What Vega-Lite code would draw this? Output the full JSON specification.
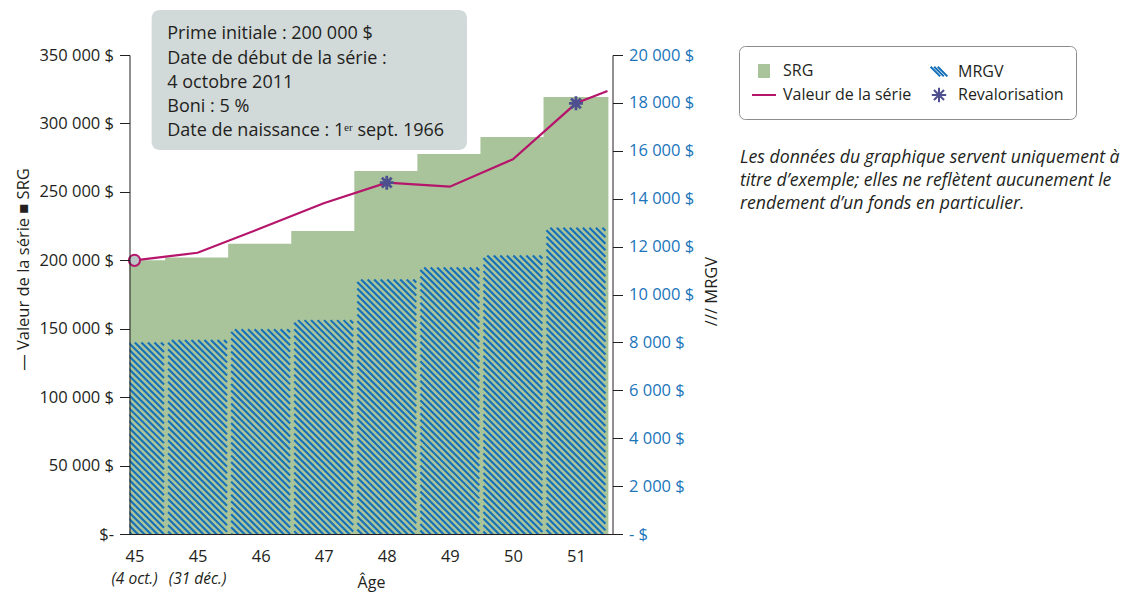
{
  "$schema": "https://vega.github.io/schema/vega-lite/v6.json",
  "width": 483,
  "height": 479,
  "autosize": {"type": "none"},
  "padding": {"left": 129.5, "top": 55, "right": 514.5, "bottom": 58},
  "background": "#ffffff",
  "config": {
    "font": "Open Sans",
    "view": {"stroke": null},
    "axis": {"grid": false, "labelFont": "Open Sans", "titleFont": "Open Sans"}
  },
  "datasets": {
    "main": [
      {"i": 0, "srg": 200000, "mrgv": 8000, "valeur": 200000, "reval": false},
      {"i": 1, "srg": 202000, "mrgv": 8100, "valeur": 205500, "reval": false},
      {"i": 2, "srg": 212000, "mrgv": 8550, "valeur": 223400, "reval": false},
      {"i": 3, "srg": 221400, "mrgv": 8930, "valeur": 241650, "reval": false},
      {"i": 4, "srg": 265200, "mrgv": 10630, "valeur": 256700, "reval": true},
      {"i": 5, "srg": 277700, "mrgv": 11130, "valeur": 253800, "reval": false},
      {"i": 6, "srg": 290100, "mrgv": 11630, "valeur": 273800, "reval": false},
      {"i": 7, "srg": 319300, "mrgv": 12790, "valeur": 314700, "reval": true}
    ],
    "line": [
      {"i": 0, "v": 200000},
      {"i": 1, "v": 205500},
      {"i": 2, "v": 223400},
      {"i": 3, "v": 241650},
      {"i": 4, "v": 256700},
      {"i": 5, "v": 253800},
      {"i": 6, "v": 273800},
      {"i": 7, "v": 314700},
      {"i": 7.5, "v": 323700}
    ],
    "sub": [
      {"i": 0, "t": "(4 oct.)"},
      {"i": 1, "t": "(31 déc.)"}
    ],
    "series": [
      {"s": "SRG"},
      {"s": "MRGV"},
      {"s": "Valeur de la série"},
      {"s": "Revalorisation"}
    ]
  },
  "resolve": {"scale": {"y": "independent"}, "axis": {"x": "independent"}},
  "layer": [
    {
      "data": {"name": "main"},
      "mark": {"type": "bar", "orient": "vertical", "width": 64.9, "fill": "#a9c49a", "clip": true},
      "encoding": {
        "x": {
          "field": "i", "type": "quantitative",
          "scale": {"domain": [0, 7.5], "nice": false, "zero": false},
          "axis": {
            "orient": "bottom",
            "values": [0, 1, 2, 3, 4, 5, 6, 7],
            "labelExpr": "['45','45','46','47','48','49','50','51'][datum.value]",
            "title": "Âge",
            "ticks": false, "tickSize": 0, "labelPadding": 14,
            "labelFontSize": 16.5, "labelColor": "#231f20",
            "labelFlush": false, "labelOverlap": false,
            "domainColor": "#231f20", "domainWidth": 1,
            "titleFontSize": 16, "titleFontWeight": "normal", "titleColor": "#231f20",
            "titleY": 48, "titleBaseline": "middle", "zindex": 1
          }
        },
        "y": {
          "field": "srg", "type": "quantitative",
          "scale": {"domain": [0, 350000], "nice": false},
          "axis": {
            "orient": "left",
            "values": [0, 50000, 100000, 150000, 200000, 250000, 300000, 350000],
            "labelExpr": "datum.value === 0 ? '$-' : replace(format(datum.value, ','), ',', ' ') + ' $'",
            "tickSize": 10, "labelPadding": 6, "labelFontSize": 16.5, "labelColor": "#231f20",
            "labelFlush": false,
            "domainColor": "#231f20", "tickColor": "#231f20",
            "title": "— Valeur de la série    ■ SRG",
            "titleFontSize": 16.5, "titleFontWeight": "normal", "titleColor": "#231f20",
            "titleAngle": 270, "titleX": -106, "titleY": 214, "titleAlign": "center", "titleBaseline": "middle",
            "zindex": 1
          }
        }
      }
    },
    {
      "data": {"name": "main"},
      "mark": {
        "type": "point",
        "shape": "M26,0L29,3M19.6,0L29,9.4M13.2,0L29,15.8M6.8,0L29,22.2M0.4,0L29,28.6M-6,0L29,35M-12.4,0L29,41.4M-18.8,0L29,47.8M-25.2,0L29,54.2M-29,2.6L29,60.6M-29,9L29,67M-29,15.4L29,73.4M-29,21.8L29,79.8M-29,28.2L29,86.2M-29,34.6L29,92.6M-29,41L29,99M-29,47.4L29,105.4M-29,53.8L29,111.8M-29,60.2L29,118.2M-29,66.6L29,124.6M-29,73L29,131M-29,79.4L29,137.4M-29,85.8L29,143.8M-29,92.2L29,150.2M-29,98.6L29,156.6M-29,105L29,163M-29,111.4L29,169.4M-29,117.8L29,175.8M-29,124.2L29,182.2M-29,130.6L29,188.6M-29,137L29,195M-29,143.4L29,201.4M-29,149.8L29,207.8M-29,156.2L29,214.2M-29,162.6L29,220.6M-29,169L29,227M-29,175.4L29,233.4M-29,181.8L29,239.8M-29,188.2L29,246.2M-29,194.6L29,252.6M-29,201L29,259M-29,207.4L29,265.4M-29,213.8L29,271.8M-29,220.2L29,278.2M-29,226.6L29,284.6M-29,233L29,291M-29,239.4L29,297.4M-29,245.8L29,303.8M-29,252.2L29,310.2M-29,258.6L29,316.6M-29,265L29,323M-29,271.4L29,329.4M-29,277.8L29,335.8M-29,284.2L29,342.2M-29,290.6L29,348.6M-29,297L29,355M-29,303.4L29,361.4",
        "filled": false,
        "stroke": "#1570b9",
        "strokeWidth": 2.1,
        "size": 4.14,
        "opacity": 1,
        "clip": true
      },
      "encoding": {
        "x": {"field": "i", "type": "quantitative", "scale": {"domain": [0, 7.5], "nice": false, "zero": false}, "axis": null},
        "y": {
          "field": "mrgv", "type": "quantitative",
          "scale": {"domain": [0, 20000], "nice": false},
          "axis": {
            "orient": "right",
            "values": [0, 2000, 4000, 6000, 8000, 10000, 12000, 14000, 16000, 18000, 20000],
            "labelExpr": "datum.value === 0 ? '- $' : replace(format(datum.value, ','), ',', ' ') + ' $'",
            "tickSize": 10, "labelPadding": 6, "labelFontSize": 16.5, "labelColor": "#1b75bb",
            "labelFlush": false,
            "domainColor": "#231f20", "tickColor": "#231f20",
            "title": "/// MRGV",
            "titleFontSize": 16.5, "titleFontWeight": "normal", "titleColor": "#231f20",
            "titleAngle": 270, "titleX": 99, "titleY": 236, "titleAlign": "center", "titleBaseline": "middle",
            "zindex": 1
          }
        }
      }
    },
    {
      "layer": [
        {
          "data": {"name": "line"},
          "mark": {"type": "line", "color": "#b5156b", "strokeWidth": 2.2, "clip": true},
          "encoding": {
            "x": {"field": "i", "type": "quantitative", "scale": {"domain": [0, 7.5], "nice": false, "zero": false}, "axis": null},
            "y": {"field": "v", "type": "quantitative", "scale": {"domain": [0, 350000], "nice": false}, "axis": null}
          }
        },
        {
          "data": {"name": "main"},
          "transform": [{"filter": "datum.i === 0"}],
          "mark": {"type": "point", "shape": "circle", "filled": true, "fill": "#bcc6c6", "stroke": "#b5156b", "strokeWidth": 2, "size": 125, "opacity": 1},
          "encoding": {
            "x": {"field": "i", "type": "quantitative", "scale": {"domain": [0, 7.5], "nice": false, "zero": false}, "axis": null},
            "y": {"field": "valeur", "type": "quantitative", "scale": {"domain": [0, 350000], "nice": false}, "axis": null}
          }
        },
        {
          "data": {"name": "main"},
          "transform": [{"filter": "datum.reval"}],
          "mark": {"type": "point", "shape": "M0,-1V1M-1,0H1M-0.7,-0.7L0.7,0.7M-0.7,0.7L0.7,-0.7", "filled": false, "stroke": "#4e4f8e", "strokeWidth": 2.8, "size": 196, "opacity": 1},
          "encoding": {
            "x": {"field": "i", "type": "quantitative", "scale": {"domain": [0, 7.5], "nice": false, "zero": false}, "axis": null},
            "y": {"field": "valeur", "type": "quantitative", "scale": {"domain": [0, 350000], "nice": false}, "axis": null}
          }
        },
        {
          "data": {"values": [{"box": "annotation"}]},
          "mark": {"type": "rect", "fill": "#d1d9d9", "cornerRadius": 8, "clip": false},
          "encoding": {
            "x": {"datum": 0.272, "type": "quantitative", "scale": {"domain": [0, 7.5], "nice": false, "zero": false}, "axis": null},
            "x2": {"datum": 5.272},
            "y": {"datum": 382880, "type": "quantitative", "scale": {"domain": [0, 350000], "nice": false}, "axis": null},
            "y2": {"datum": 280590}
          }
        },
        {
          "data": {"values": [{"box": "annotation"}]},
          "mark": {
            "type": "text",
            "text": ["Prime initiale : 200 000 $", "Date de début de la série :", "4 octobre 2011", "Boni : 5 %", "Date de naissance : 1ᵉʳ sept. 1966"],
            "lineHeight": 24.2, "align": "left", "baseline": "alphabetic",
            "fontSize": 18, "color": "#231f20", "clip": false
          },
          "encoding": {
            "x": {"datum": 0.52, "type": "quantitative", "scale": {"domain": [0, 7.5], "nice": false, "zero": false}, "axis": null},
            "y": {"datum": 361330, "type": "quantitative", "scale": {"domain": [0, 350000], "nice": false}, "axis": null}
          }
        },
        {
          "data": {"values": [{"box": "note"}]},
          "mark": {
            "type": "text",
            "text": ["Les données du graphique servent uniquement à", "titre d’exemple; elles ne reflètent aucunement le", "rendement d’un fonds en particulier."],
            "lineHeight": 23, "align": "left", "baseline": "alphabetic",
            "fontSize": 17.7, "fontStyle": "italic", "color": "#231f20", "clip": false
          },
          "encoding": {
            "x": {"datum": 9.6, "type": "quantitative", "scale": {"domain": [0, 7.5], "nice": false, "zero": false}, "axis": null},
            "y": {"datum": 271090, "type": "quantitative", "scale": {"domain": [0, 350000], "nice": false}, "axis": null}
          }
        },
        {
          "data": {"name": "sub"},
          "mark": {"type": "text", "fontSize": 15.5, "fontStyle": "italic", "color": "#231f20", "baseline": "middle", "align": "center", "dy": 45, "clip": false},
          "encoding": {
            "x": {"field": "i", "type": "quantitative", "scale": {"domain": [0, 7.5], "nice": false, "zero": false}, "axis": null},
            "y": {"datum": 0, "type": "quantitative", "scale": {"domain": [0, 350000], "nice": false}, "axis": null},
            "text": {"field": "t"}
          }
        },
        {
          "data": {"name": "series"},
          "mark": {"type": "point", "filled": false, "strokeWidth": 2, "size": 576, "opacity": 1, "clip": true},
          "encoding": {
            "x": {"datum": -20, "type": "quantitative", "scale": {"domain": [0, 7.5], "nice": false, "zero": false}, "axis": null},
            "y": {"datum": 0, "type": "quantitative", "scale": {"domain": [0, 350000], "nice": false}, "axis": null},
            "color": {
              "field": "s", "type": "nominal",
              "scale": {"domain": ["SRG", "Valeur de la série", "MRGV", "Revalorisation"], "range": ["#a9c49a", "#b5156b", "#1570b9", "#4e4f8e"]},
              "legend": {
                "orient": "none", "legendX": 609.5, "legendY": -9, "columns": 2, "title": null,
                "padding": 12, "strokeColor": "#8c8c8c", "cornerRadius": 6, "fillColor": "#ffffff",
                "symbolSize": 576, "symbolStrokeWidth": 2, "labelFontSize": 16, "labelColor": "#231f20",
                "labelFont": "Open Sans", "labelOffset": 6, "columnPadding": 14, "rowPadding": 1
              }
            },
            "shape": {
              "field": "s", "type": "nominal",
              "scale": {
                "domain": ["SRG", "Valeur de la série", "MRGV", "Revalorisation"],
                "range": [
                  "M-0.5,-0.5H0.5M-0.5,-0.375H0.5M-0.5,-0.25H0.5M-0.5,-0.125H0.5M-0.5,0H0.5M-0.5,0.125H0.5M-0.5,0.25H0.5M-0.5,0.375H0.5M-0.5,0.5H0.5",
                  "M-1,0H1",
                  "M-0.7,-0.4L0.1,0.4M-0.4,-0.4L0.4,0.4M-0.1,-0.4L0.7,0.4",
                  "M0,-0.6V0.6M-0.6,0H0.6M-0.42,-0.42L0.42,0.42M-0.42,0.42L0.42,-0.42"
                ]
              },
              "legend": {
                "orient": "none", "legendX": 609.5, "legendY": -9, "columns": 2, "title": null,
                "padding": 12, "strokeColor": "#8c8c8c", "cornerRadius": 6, "fillColor": "#ffffff",
                "symbolSize": 576, "symbolStrokeWidth": 2, "labelFontSize": 16, "labelColor": "#231f20",
                "labelFont": "Open Sans", "labelOffset": 6, "columnPadding": 14, "rowPadding": 1
              }
            }
          }
        }
      ]
    }
  ]
}
